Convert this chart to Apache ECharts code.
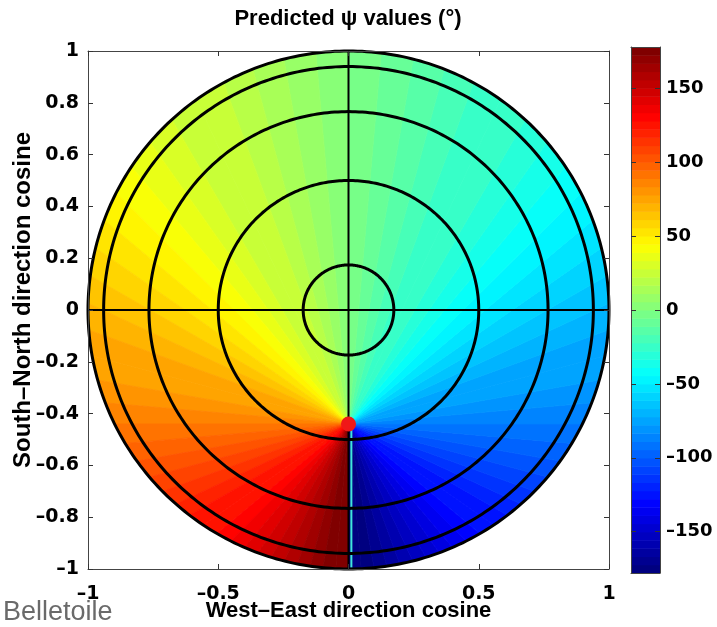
<!DOCTYPE html>
<html>
<head>
<meta charset="utf-8">
<script src="https://cdn.jsdelivr.net/npm/echarts@6/dist/echarts.min.js"></script>
<style>
  html, body { margin: 0; padding: 0; background: #fff; }
  #chart { width: 717px; height: 627px; }
</style>
</head>
<body>
<div id="chart"></div>
<script>
// Singular point of the ψ field (direction cosines)
const poleCosines = [0, -0.44];

// Ray bearings from the singular point (degrees, 0 = north, positive toward west)
const rayBearings = [
  -180, -175, -170, -165, -160, -155, -150, -145, -140, -135, -130, -125,
  -120, -115, -110, -105, -100, -95, -90, -85, -80, -75, -70, -65,
  -60, -55, -50, -45, -40, -35, -30, -25, -20, -15, -10, -5,
  0, 5, 10, 15, 20, 25, 30, 35, 40, 45, 50, 55,
  60, 65, 70, 75, 80, 85, 90, 95, 100, 105, 110, 115,
  120, 125, 130, 135, 140, 145, 150, 155, 160, 165, 170, 175, 180
];
// Predicted ψ (degrees) along each ray
const psiValues = [
  -178, -175, -170, -165, -160, -155, -150, -145, -140, -135, -130, -125,
  -120, -115, -110, -105, -100, -95, -90, -85, -80, -75, -70, -65,
  -60, -55, -50, -45, -40, -35, -30, -25, -20, -15, -10, -5,
  0, 5, 10, 15, 20, 25, 30, 35, 40, 45, 50, 55,
  60, 65, 70, 75, 80, 85, 90, 95, 100, 105, 110, 115,
  120, 125, 130, 135, 140, 145, 150, 155, 160, 165, 170, 175, 178
];

// Zenith circles (radii in direction-cosine units: 10°, 30°, 50°, 70°, 90°)
const circleRadii = [0.174, 0.5, 0.766, 0.94, 1.0];

// Cross hairs through the origin
const crossLines = [
  [[0, -1], [0, 1]],
  [[-1, 0], [1, 0]]
];
// Thin cyan seam below the singular point
const seamLine = [[0.011, -0.46], [0.011, -0.995]];

// Colour scale
const psiRange = [-178, 178];
const colorLevels = 64;
const colorbarTicks = [-150, -100, -50, 0, 50, 100, 150];

const xTicks = { min: -1, max: 1, interval: 0.5 };
const yTicks = { min: -1, max: 1, interval: 0.2 };

function clamp01(v) { return Math.max(0, Math.min(1, v)); }
function jetColor(level) {
  const t = level / (colorLevels - 1);
  const r = clamp01(1.5 - Math.abs(4 * t - 3));
  const g = clamp01(1.5 - Math.abs(4 * t - 2));
  const b = clamp01(1.5 - Math.abs(4 * t - 1));
  return 'rgb(' + Math.round(r * 255) + ',' + Math.round(g * 255) + ',' + Math.round(b * 255) + ')';
}
function levelOf(psi) {
  const f = (psi - psiRange[0]) / (psiRange[1] - psiRange[0]);
  return Math.max(0, Math.min(colorLevels - 1, Math.floor(f * colorLevels)));
}
function minusSign(s) { return String(s).replace('-', '\u2013'); }

// Where a ray from the singular point meets the unit horizon
function rimHit(bearingDeg) {
  const b = bearingDeg * Math.PI / 180;
  const dx = -Math.sin(b), dy = Math.cos(b);
  const px = poleCosines[0], py = poleCosines[1];
  const pd = px * dx + py * dy;
  const t = -pd + Math.sqrt(pd * pd - (px * px + py * py) + 1);
  return [px + t * dx, py + t * dy];
}

const wedgeData = [];
for (let i = 0; i < rayBearings.length - 1; i++) {
  wedgeData.push([rayBearings[i], rayBearings[i + 1], psiValues[i], psiValues[i + 1]]);
}

const colorbarData = [];
for (let i = 0; i < colorLevels; i++) {
  const span = (psiRange[1] - psiRange[0]) / colorLevels;
  colorbarData.push([psiRange[0] + i * span, psiRange[0] + (i + 1) * span, i]);
}

const FONT = 'Liberation Sans';
const tickFont = { fontFamily: 'DejaVu Sans', fontWeight: 'bold', fontSize: 19, color: '#000' };
const nameFont = { fontFamily: FONT, fontWeight: 'bold', fontSize: 22, color: '#000' };
const boxLine = { show: true, onZero: false, lineStyle: { color: '#444', width: 1 } };
const inTick = { show: true, inside: true, length: 5, lineStyle: { color: '#333', width: 1 } };

const chart = echarts.init(document.getElementById('chart'), null, { renderer: 'canvas' });

chart.setOption({
  animation: false,
  backgroundColor: '#fff',
  grid: [
    { left: 88, top: 51, width: 521, height: 518, containLabel: false, outerBoundsMode: 'none' },
    { left: 631, top: 47, width: 29, height: 526, containLabel: false, outerBoundsMode: 'none' }
  ],
  xAxis: [
    {
      type: 'value', gridIndex: 0, position: 'bottom', z: 10,
      min: xTicks.min, max: xTicks.max, interval: xTicks.interval,
      axisLine: boxLine, axisTick: inTick, splitLine: { show: false },
      axisLabel: Object.assign({ margin: 16, formatter: v => minusSign(v) }, tickFont),
      name: 'West\u2013East direction cosine', nameLocation: 'middle', nameGap: 31,
      nameMoveOverlap: false,
      nameTextStyle: nameFont
    },
    {
      type: 'value', gridIndex: 0, position: 'top', z: 10,
      min: xTicks.min, max: xTicks.max, interval: xTicks.interval,
      axisLine: boxLine, axisTick: inTick, axisLabel: { show: false }, splitLine: { show: false }
    },
    {
      type: 'value', gridIndex: 1, position: 'bottom', min: 0, max: 1, z: 10,
      axisLine: boxLine, axisTick: { show: false }, axisLabel: { show: false }, splitLine: { show: false }
    },
    {
      type: 'value', gridIndex: 1, position: 'top', min: 0, max: 1, z: 10,
      axisLine: boxLine, axisTick: { show: false }, axisLabel: { show: false }, splitLine: { show: false }
    }
  ],
  yAxis: [
    {
      type: 'value', gridIndex: 0, position: 'left', z: 10,
      min: yTicks.min, max: yTicks.max, interval: yTicks.interval,
      axisLine: boxLine, axisTick: inTick, splitLine: { show: false },
      axisLabel: Object.assign({ margin: 9, formatter: v => minusSign(Math.round(v * 10) / 10) }, tickFont),
      name: 'South\u2013North direction cosine', nameLocation: 'middle', nameGap: 53,
      nameMoveOverlap: false,
      nameTextStyle: Object.assign({}, nameFont, { fontSize: 24, padding: [0, 0, 0, 20] })
    },
    {
      type: 'value', gridIndex: 0, position: 'right', z: 10,
      min: yTicks.min, max: yTicks.max, interval: yTicks.interval,
      axisLine: boxLine, axisTick: inTick, axisLabel: { show: false }, splitLine: { show: false }
    },
    {
      type: 'value', gridIndex: 1, position: 'left', min: psiRange[0], max: psiRange[1], z: 10,
      axisLine: boxLine,
      axisTick: Object.assign({}, inTick, { customValues: colorbarTicks }),
      axisLabel: { show: false }, splitLine: { show: false }
    },
    {
      type: 'value', gridIndex: 1, position: 'right', min: psiRange[0], max: psiRange[1], z: 10,
      axisLine: boxLine,
      axisTick: Object.assign({}, inTick, { customValues: colorbarTicks }),
      axisLabel: Object.assign({ margin: 6, customValues: colorbarTicks, formatter: v => minusSign(v) }, tickFont, { fontSize: 18 }),
      splitLine: { show: false }
    }
  ],
  graphic: [
    {
      type: 'text', x: 348, y: 8,
      style: { text: 'Predicted \u03c8 values (\u00b0)', fontFamily: FONT, fontWeight: 'bold', fontSize: 22, fill: '#000', align: 'center', textAlign: 'center' }
    },
    {
      type: 'text', x: 3, y: 599,
      style: { text: 'Belletoile', fontFamily: FONT, fontSize: 27, fill: '#6a6a6a' }
    }
  ],
  series: [
    {
      // ψ field: wedges fanning out from the singular point to the horizon
      type: 'custom', xAxisIndex: 0, yAxisIndex: 0, silent: true, z: 1,
      data: wedgeData,
      renderItem: function (params, api) {
        const b0 = api.value(0), b1 = api.value(1);
        const psi = (api.value(2) + api.value(3)) / 2;
        const color = jetColor(levelOf(psi));
        const pts = [api.coord(poleCosines)];
        const steps = 6;
        for (let k = 0; k <= steps; k++) {
          pts.push(api.coord(rimHit(b0 + (b1 - b0) * k / steps)));
        }
        return {
          type: 'polygon',
          shape: { points: pts },
          style: { fill: color, stroke: color, lineWidth: 0.8 }
        };
      }
    },
    {
      // Zenith circles
      type: 'custom', xAxisIndex: 0, yAxisIndex: 0, silent: true, z: 3,
      data: circleRadii.map(r => [r]),
      renderItem: function (params, api) {
        const r = api.value(0);
        const pts = [];
        const n = 360;
        for (let k = 0; k <= n; k++) {
          const a = 2 * Math.PI * k / n;
          pts.push(api.coord([r * Math.cos(a), r * Math.sin(a)]));
        }
        return {
          type: 'polyline',
          shape: { points: pts },
          style: { stroke: '#000', lineWidth: 3, fill: null }
        };
      }
    },
    {
      type: 'line', xAxisIndex: 0, yAxisIndex: 0, silent: true, z: 2,
      data: seamLine, symbol: 'none',
      lineStyle: { color: '#40e6dc', width: 2 }
    },
    ...crossLines.map(seg => ({
      type: 'line', xAxisIndex: 0, yAxisIndex: 0, silent: true, z: 3,
      data: seg, symbol: 'none',
      lineStyle: { color: '#000', width: 2 }
    })),
    {
      type: 'scatter', xAxisIndex: 0, yAxisIndex: 0, silent: true, z: 4,
      data: [poleCosines], symbol: 'circle', symbolSize: 15,
      itemStyle: { color: '#f01818', opacity: 1 }
    },
    {
      // Colour bar
      type: 'custom', xAxisIndex: 2, yAxisIndex: 2, silent: true, z: 1,
      data: colorbarData,
      renderItem: function (params, api) {
        const p0 = api.coord([0, api.value(1)]);
        const p1 = api.coord([1, api.value(0)]);
        const c = jetColor(api.value(2));
        return {
          type: 'rect',
          shape: { x: p0[0], y: p0[1], width: p1[0] - p0[0], height: p1[1] - p0[1] + 0.5 },
          style: { fill: c }
        };
      }
    }
  ]
});
</script>
</body>
</html>
